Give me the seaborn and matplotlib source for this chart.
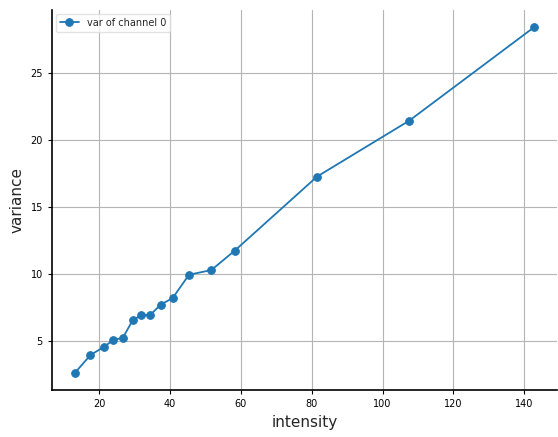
import matplotlib
matplotlib.use("Agg")
import matplotlib.pyplot as plt
import seaborn as sns
import pandas as pd

intensity = [13.2, 17.6, 21.5, 24.1, 26.7, 29.5, 31.8, 34.5, 37.4, 40.8,
             45.4, 51.7, 58.3, 81.5, 107.5, 142.7]
variance = [2.62, 3.96, 4.58, 5.10, 5.23, 6.55, 6.93, 6.97, 7.72, 8.22,
            9.96, 10.31, 11.76, 17.29, 21.47, 28.45]
series_label = "var of channel 0"
x_ticks = [20, 40, 60, 80, 100, 120, 140]
y_ticks = [5, 10, 15, 20, 25]

df = pd.DataFrame({"intensity": intensity, "variance": variance})

sns.set_style("ticks")
fig = plt.figure(figsize=(5.58, 4.37), dpi=100)
ax = fig.add_axes([0.093, 0.107, 0.905, 0.870])
sns.lineplot(data=df, x="intensity", y="variance", marker="o", markersize=5.5,
             color="#1f77b4", markeredgecolor="#1f77b4", linewidth=1.3,
             label=series_label, ax=ax)
ax.set_xticks(x_ticks)
ax.set_yticks(y_ticks)
ax.grid(True, color="#b4b4b4", linewidth=0.8)
ax.tick_params(labelsize=7, length=3, width=0.8, colors="black")
ax.set_xlabel("intensity", fontsize=11)
ax.set_ylabel("variance", fontsize=11)
for s in ["top", "right"]:
    ax.spines[s].set_visible(False)
for s in ["left", "bottom"]:
    ax.spines[s].set_color("black")
    ax.spines[s].set_linewidth(1.2)
ax.legend(loc="upper left", fontsize=7, frameon=True, framealpha=0.8,
          edgecolor="#dddddd", borderaxespad=0.4)
fig.savefig("out.png", dpi=100)
